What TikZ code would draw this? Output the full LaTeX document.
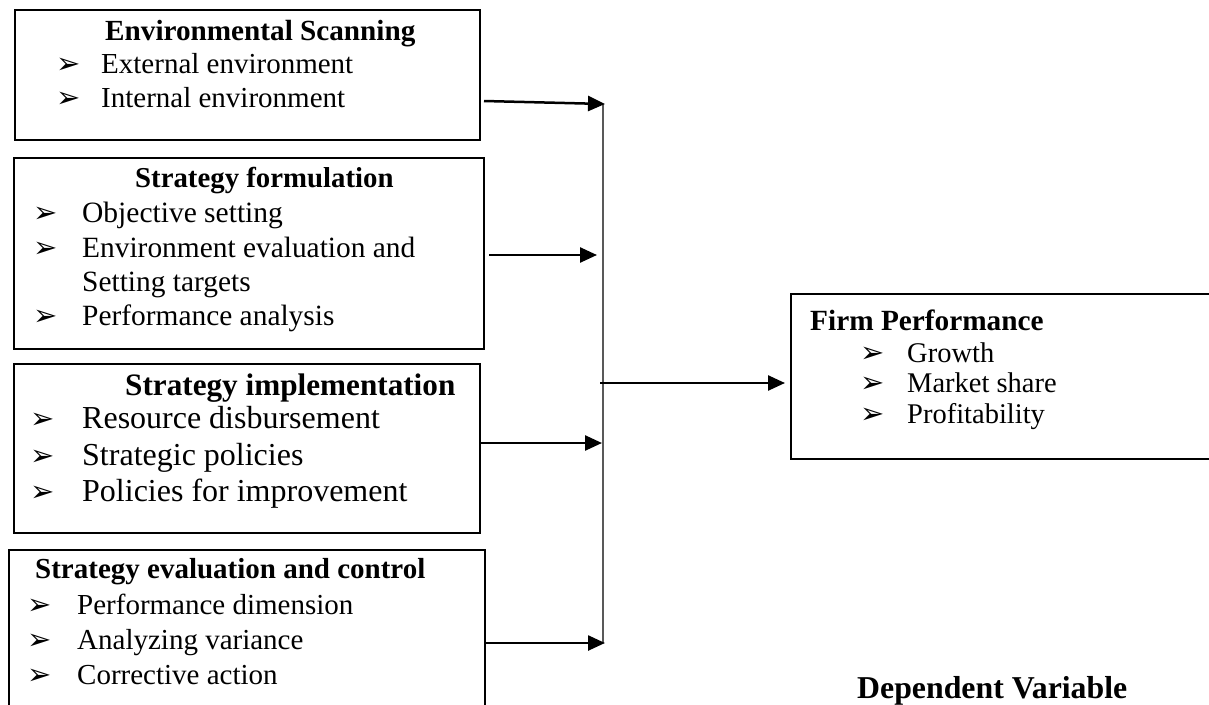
\documentclass[tikz,border=0pt]{standalone}
\usepackage{fontspec}
\setmainfont{Liberation Serif}
\newfontfamily\dejavu{DejaVu Sans}
\usetikzlibrary{arrows.meta}

% bullet and sizes
\newcommand{\bul}{{\dejavu\fontsize{29}{29}\selectfont ➢}}
\newcommand{\blt}[2]{\makebox[#1][l]{\bul}#2}
\newcommand{\fsz}[1]{\fontsize{#1}{#1}\selectfont}

\tikzset{
  box/.style={draw, line width=1.6pt, anchor=north west, inner sep=0pt},
  arr/.style={-{Triangle[length=17pt,width=15pt]}, line width=2.5pt},
  bus/.style={line width=1.6pt, black!65},
  ttl/.style={anchor=base west, inner sep=0pt, font=\bfseries},
  itm/.style={anchor=base west, inner sep=0pt},
}

\begin{document}
\begin{tikzpicture}[x=1pt, y=-1pt]
\useasboundingbox (0,0) rectangle (1209,704);

% boxes
\node[box, minimum width=465pt, minimum height=130pt] (scan) at (14,9) {};
\node[box, minimum width=470pt, minimum height=191pt] (form) at (13,157) {};
\node[box, minimum width=466pt, minimum height=169pt] (impl) at (13,363) {};
\node[box, minimum width=476pt, minimum height=170pt] (eval) at (8,549) {};
\node[box, minimum width=430pt, minimum height=165pt] (perf) at (790,293) {};

% environmental scanning
\node[ttl, font=\bfseries\fsz{29.2}] (scant) at (105,40) {Environmental Scanning};
\node[itm, font=\fsz{29}] (scan1) at (56,73) {\blt{45pt}{External environment}};
\node[itm, font=\fsz{29}] (scan2) at (56,107) {\blt{45pt}{Internal environment}};

% strategy formulation
\node[ttl, font=\bfseries\fsz{28.8}] (formt) at (135,187) {Strategy formulation};
\node[itm, font=\fsz{29.5}] (form1) at (33,222) {\blt{49pt}{Objective setting}};
\node[itm, font=\fsz{29.4}] (form2) at (33,257) {\blt{49pt}{Environment evaluation and}};
\node[itm, font=\fsz{29.4}] (form3) at (82,291) {Setting targets};
\node[itm, font=\fsz{29.4}] (form4) at (33,325) {\blt{49pt}{Performance analysis}};

% strategy implementation
\node[ttl, font=\bfseries\fsz{31.2}] (implt) at (125,395) {Strategy implementation};
\node[itm, font=\fsz{32}] (impl1) at (30,428) {\blt{52pt}{Resource disbursement}};
\node[itm, font=\fsz{32}] (impl2) at (30,465) {\blt{52pt}{Strategic policies}};
\node[itm, font=\fsz{32}] (impl3) at (30,501) {\blt{52pt}{Policies for improvement}};

% strategy evaluation
\node[ttl, font=\bfseries\fsz{29}] (evalt) at (35,578) {Strategy evaluation and control};
\node[itm, font=\fsz{29}] (eval1) at (27,614) {\blt{50pt}{Performance dimension}};
\node[itm, font=\fsz{29}] (eval2) at (27,649) {\blt{50pt}{Analyzing variance}};
\node[itm, font=\fsz{29}] (eval3) at (27,684) {\blt{50pt}{Corrective action}};

% firm performance
\node[ttl, font=\bfseries\fsz{29.3}] (perft) at (810,330) {Firm Performance};
\node[itm, font=\fsz{28.5}] (perf1) at (860,362) {\blt{47pt}{Growth}};
\node[itm, font=\fsz{28.5}] (perf2) at (860,392) {\blt{47pt}{Market share}};
\node[itm, font=\fsz{28.5}] (perf3) at (860,423) {\blt{47pt}{Profitability}};

\node[ttl, font=\bfseries\fsz{31.8}] (dv) at (857,698) {Dependent Variable};

% arrow ends
\coordinate (s1) at (484,101);
\coordinate (t1) at (605,104);
\coordinate (s2) at (489,255);
\coordinate (t2) at (597,255);
\coordinate (s3) at (481,443);
\coordinate (t3) at (602,443);
\coordinate (s4) at (484,643);
\coordinate (t4) at (605,643);
\coordinate (b1) at (603,104);
\coordinate (b4) at (603,643);
\coordinate (jn) at (600,383);

% arrows
\draw[bus] (b1) -- (b4);
\draw[arr] (s1) -- (t1);
\draw[arr] (s2) -- (t2);
\draw[arr] (s3) -- (t3);
\draw[arr] (s4) -- (t4);
\draw[arr, shorten >=5pt] (jn) -- (perf.west |- jn);
\end{tikzpicture}
\end{document}
